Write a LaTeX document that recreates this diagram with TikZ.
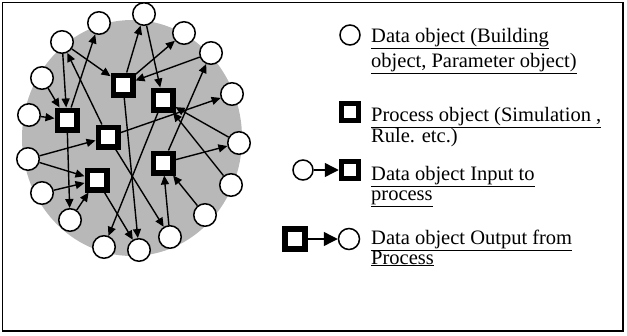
\documentclass[tikz,border=0pt]{standalone}
\usepackage{fontspec}
\setmainfont{Liberation Serif}
\usetikzlibrary{arrows.meta,backgrounds}

\begin{document}
\begin{tikzpicture}[x=1pt,y=-1pt,
		data/.style={circle,draw,fill=white,line width=1.5pt,minimum size=22.5pt,inner sep=0pt},
		proc/.style={rectangle,draw,fill=white,line width=5.5pt,minimum size=19.5pt,inner sep=0pt},
		flow/.style={line width=1.4pt,-{Triangle[length=9pt,width=8pt]}},
		keyflow/.style={line width=1.4pt,-{Triangle[length=14pt,width=14pt]}},
		lbl/.style={anchor=base west,inner sep=0pt,font=\fontsize{20.5}{24}\selectfont}]
		\useasboundingbox (0,0) rectangle (627,335);
		\draw[line width=1.3pt] (2.5,2.5) rectangle (623,331);
		\foreach \n/\xy in {1/{99,23}, 2/{144,14}, 3/{184,33}, 4/{62,42}, 5/{211,53}, 6/{42,78}, 7/{232,94}, 8/{29,115}, 9/{239,143}, 10/{28,159}, 11/{231,185}, 12/{42,193}, 13/{205,215}, 14/{70,220}, 15/{170,237}, 16/{104,247}, 17/{139,250}}
			\node[data] (d\n) at (\xy) {};
		\foreach \n/\xy in {1/{123,85}, 2/{163,100}, 3/{67,120}, 4/{108,137}, 5/{163,163}, 6/{97,180}}
			\node[proc] (p\n) at (\xy) {};
		\begin{scope}[on background layer]
			\fill[black!28] (132,138) ellipse [x radius=110, y radius=118];
			\foreach \a/\b in {d4/p3, d6/p3, d8/p3, p3/d1, p3/d14, d14/p6, d12/p6, d10/p6, d10/p4, d4/p1, p4/d4, p1/d2, p1/d3, d5/p1, d2/p2, p4/d7, d9/p2, d11/p2, p5/d9, p5/d5, d13/p5, d15/p5, p4/d15, p1/d17, p6/d17, p2/d16}
				\draw[flow] (\a) -- (\b);
		\end{scope}
		\node[data,minimum size=20pt] (k1) at (350,35) {};
		\node[proc,minimum size=17pt] (k2) at (350,112) {};
		\node[data,minimum size=20pt] (k3a) at (303,170) {};
		\node[proc,minimum size=17pt] (k3b) at (350,170) {};
		\draw[keyflow] (k3a) -- (k3b);
		\node[proc,minimum size=20pt] (k4a) at (295,239) {};
		\node[data,minimum size=21pt] (k4b) at (349,239) {};
		\draw[keyflow] (k4a) -- (k4b);
		\node[lbl] (t1a) at (371,42) {\underline{Data object (Building}};
		\node[lbl] (t1b) at (371,67) {\underline{object, Parameter object)}};
		\node[lbl] (t2a) at (371,121) {\underline{Process object (Simulation ,}};
		\node[lbl] (t2b) at (371,142) {Rule. etc.)};
		\node[lbl] (t3a) at (371,180) {\underline{Data object Input to}};
		\node[lbl] (t3b) at (371,200) {\underline{process}};
		\node[lbl] (t4a) at (371,244) {\underline{Data object Output from}};
		\node[lbl] (t4b) at (371,264) {\underline{Process}};
	\end{tikzpicture}
\end{document}
